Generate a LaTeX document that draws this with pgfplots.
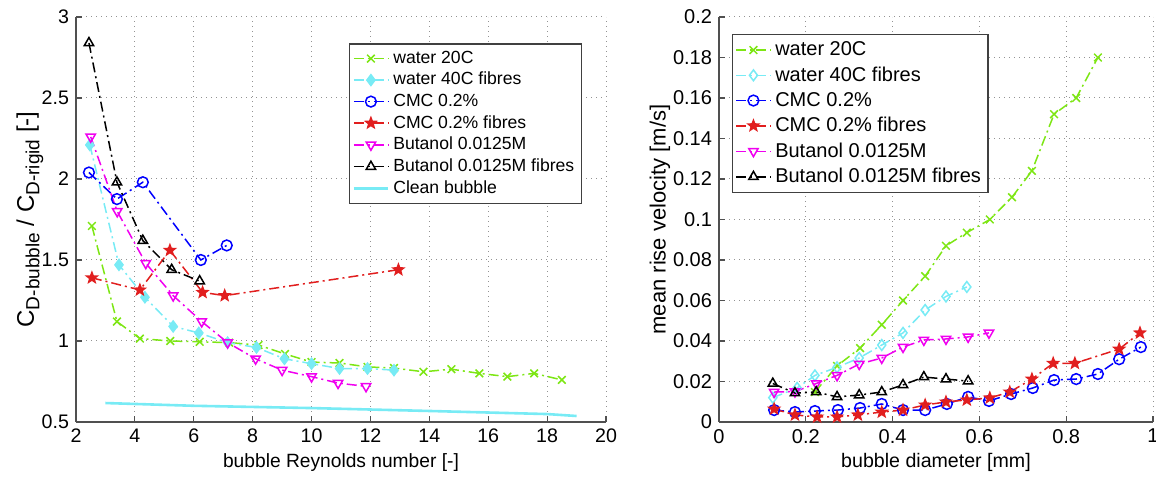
\documentclass[border=0pt]{standalone}
\usepackage{pgfplots}
\pgfplotsset{compat=1.18}
\usepackage{fontspec}
\setmainfont{Liberation Sans}

\definecolor{mgreen}{RGB}{125,230,20}
\definecolor{mcyan}{RGB}{120,235,245}
\definecolor{mred}{RGB}{225,30,30}
\definecolor{mmag}{RGB}{240,0,240}
\definecolor{maxis}{RGB}{80,80,80}

\newcommand{\sub}[1]{\raisebox{-0.45ex}{\fontsize{9.5}{10}\selectfont #1}}

% MATLAB pentagram
\pgfdeclareplotmark{pent}{%
  \pgfpathmoveto{\pgfpointpolar{90}{\pgfplotmarksize}}%
  \pgfpathlineto{\pgfpointpolar{126}{0.42\pgfplotmarksize}}%
  \pgfpathlineto{\pgfpointpolar{162}{\pgfplotmarksize}}%
  \pgfpathlineto{\pgfpointpolar{198}{0.42\pgfplotmarksize}}%
  \pgfpathlineto{\pgfpointpolar{234}{\pgfplotmarksize}}%
  \pgfpathlineto{\pgfpointpolar{270}{0.42\pgfplotmarksize}}%
  \pgfpathlineto{\pgfpointpolar{306}{\pgfplotmarksize}}%
  \pgfpathlineto{\pgfpointpolar{342}{0.42\pgfplotmarksize}}%
  \pgfpathlineto{\pgfpointpolar{18}{\pgfplotmarksize}}%
  \pgfpathlineto{\pgfpointpolar{54}{0.42\pgfplotmarksize}}%
  \pgfpathclose
  \pgfusepathqfillstroke}

\pgfplotsset{
  mstyle/.style={
    scale only axis,
    axis x line*=bottom, axis y line*=left,
    axis line style={maxis, line width=0.7pt},
    every tick/.style={maxis, line width=0.6pt},
    tick align=inside, major tick length=3pt,
    grid=major,
    major grid style={gray!85, line width=0.5pt, dash pattern=on 0.7pt off 1.8pt},
    /pgf/number format/assume math mode=true,
    legend style={draw=black!75, fill=white, line width=0.6pt,
      inner sep=1.5pt, anchor=north west},
    legend cell align=left,
    every axis plot/.append style={line width=0.75pt,
      dash pattern=on 5pt off 2pt on 1pt off 2pt, mark size=2.7pt},
  },
}

\begin{document}
\begin{tikzpicture}
\path[use as bounding box] (0,0) rectangle (578pt,240pt);

% ---------- left: drag ratio ----------
\begin{axis}[mstyle,
  at={(38pt,29pt)}, anchor=south west,
  width=265pt, height=202.5pt,
  xmin=2, xmax=20, ymin=0.5, ymax=3,
  xtick={2,4,...,20},
  ytick={0.5,1,1.5,2,2.5,3},
  tick label style={font=\fontsize{9.8}{11}\selectfont},
  xlabel={bubble Reynolds number [-]},
  ylabel={C\sub{D-bubble} / C\sub{D-rigid} [-]},
  xlabel style={font=\fontsize{9.6}{11}\selectfont,
    at={(axis description cs:0.5,-0.101)}, anchor=center},
  ylabel style={font=\fontsize{12}{14}\selectfont,
    at={(axis description cs:-0.087,0.5)}, anchor=center},
  legend style={at={(0.515,0.935)}, row sep=-1pt,
    font=\fontsize{8.8}{10}\selectfont},
]
\addplot[mgreen, mark=x, mark options={solid}] coordinates {
 (2.54,1.71)(3.39,1.12)(4.17,1.015)(5.2,1.0)(6.2,0.995)(7.2,0.99)
 (8.2,0.975)(9.1,0.92)(10.0,0.87)(10.95,0.864)(11.9,0.84)(12.8,0.833)
 (13.8,0.81)(14.75,0.826)(15.7,0.80)(16.65,0.78)(17.56,0.80)(18.5,0.76)};
\addplot[mcyan, mark=diamond*, mark options={solid}] coordinates {
 (2.47,2.21)(3.46,1.47)(4.34,1.27)(5.3,1.09)(6.17,1.05)(7.15,0.99)
 (8.13,0.96)(9.08,0.89)(10,0.86)(10.95,0.83)(11.9,0.83)(12.8,0.82)};
\addplot[blue, mark=o, mark options={solid}] coordinates {
 (2.44,2.04)(3.39,1.876)(4.27,1.98)(6.24,1.5)(7.12,1.59)};
\addplot[mred, mark=pent, mark options={solid}] coordinates {
 (2.54,1.39)(4.17,1.315)(5.19,1.56)(6.3,1.30)(7.05,1.28)(12.95,1.44)};
\addplot[mmag, mark=triangle, mark options={solid, rotate=180}] coordinates {
 (2.5,2.26)(3.4,1.80)(4.37,1.48)(5.3,1.28)(6.27,1.12)(7.15,0.99)
 (8.1,0.89)(9.0,0.82)(10,0.78)(10.9,0.74)(11.85,0.72)};
\addplot[black, mark=triangle, mark options={solid}] coordinates {
 (2.44,2.84)(3.39,1.98)(4.27,1.62)(5.25,1.44)(6.2,1.37)};
\addplot[mcyan, solid, line width=1.3pt, no marks] coordinates {
 (3,0.617)(6,0.600)(10,0.586)(14,0.568)(18,0.549)(19,0.537)};
\legend{water 20C, water 40C fibres, CMC 0.2\%, CMC 0.2\% fibres,
  Butanol 0.0125M, Butanol 0.0125M fibres, Clean bubble}
\end{axis}

% ---------- right: rise velocity ----------
\begin{axis}[mstyle,
  at={(359.5pt,29pt)}, anchor=south west,
  width=217pt, height=202.5pt,
  xmin=0, xmax=1, ymin=0, ymax=0.2,
  xtick={0,0.2,...,1},
  ytick={0,0.02,...,0.2},
  /pgf/number format/.cd, fixed, precision=2, /pgfplots/.cd,
  tick label style={font=\fontsize{10}{12}\selectfont},
  xlabel={bubble diameter [mm]},
  ylabel={mean rise velocity [m/s]},
  xlabel style={font=\fontsize{9.8}{11}\selectfont,
    at={(axis description cs:0.5,-0.101)}, anchor=center},
  ylabel style={font=\fontsize{11}{13}\selectfont,
    at={(axis description cs:-0.136,0.5)}, anchor=center},
  legend style={at={(0.03,0.958)}, row sep=0pt,
    font=\fontsize{10}{12}\selectfont},
]
\addplot[mgreen, mark=x, mark options={solid}] coordinates {
 (0.221,0.0148)(0.272,0.0277)(0.325,0.0365)(0.375,0.048)(0.424,0.060)
 (0.475,0.072)(0.523,0.087)(0.571,0.0935)(0.624,0.100)(0.675,0.111)
 (0.721,0.124)(0.772,0.152)(0.823,0.160)(0.873,0.180)};
\addplot[mcyan, mark=diamond, mark options={solid}] coordinates {
 (0.124,0.012)(0.18,0.0168)(0.221,0.023)(0.272,0.027)(0.323,0.0316)
 (0.375,0.038)(0.424,0.044)(0.475,0.0553)(0.523,0.062)(0.571,0.0667)};
\addplot[blue, mark=o, mark options={solid}] coordinates {
 (0.127,0.0059)(0.175,0.0049)(0.221,0.0054)(0.274,0.0059)(0.325,0.0069)
 (0.375,0.0089)(0.424,0.0059)(0.475,0.0059)(0.525,0.0089)(0.574,0.0124)
 (0.622,0.0104)(0.673,0.0138)(0.723,0.0168)(0.772,0.0207)(0.823,0.0212)
 (0.873,0.0237)(0.922,0.031)(0.972,0.037)};
\addplot[mred, mark=pent, mark options={solid}] coordinates {
 (0.127,0.0064)(0.175,0.0035)(0.226,0.0025)(0.272,0.0025)(0.32,0.0035)
 (0.375,0.0049)(0.424,0.0059)(0.475,0.0084)(0.523,0.0099)(0.571,0.0109)
 (0.624,0.0119)(0.67,0.0148)(0.721,0.0212)(0.77,0.029)(0.82,0.029)
 (0.922,0.036)(0.97,0.044)};
\addplot[mmag, mark=triangle, mark options={solid, rotate=180}] coordinates {
 (0.127,0.0148)(0.175,0.015)(0.224,0.019)(0.272,0.023)(0.323,0.0286)
 (0.375,0.0316)(0.424,0.037)(0.472,0.0405)(0.523,0.041)(0.574,0.042)
 (0.622,0.044)};
\addplot[black, mark=triangle, mark options={solid}] coordinates {
 (0.124,0.019)(0.175,0.0143)(0.224,0.0148)(0.272,0.0124)(0.323,0.0133)
 (0.375,0.0148)(0.424,0.0183)(0.472,0.0222)(0.523,0.0212)(0.574,0.0202)};
\legend{water 20C, water 40C fibres, CMC 0.2\%, CMC 0.2\% fibres,
  Butanol 0.0125M, Butanol 0.0125M fibres}
\end{axis}
\end{tikzpicture}
\end{document}
